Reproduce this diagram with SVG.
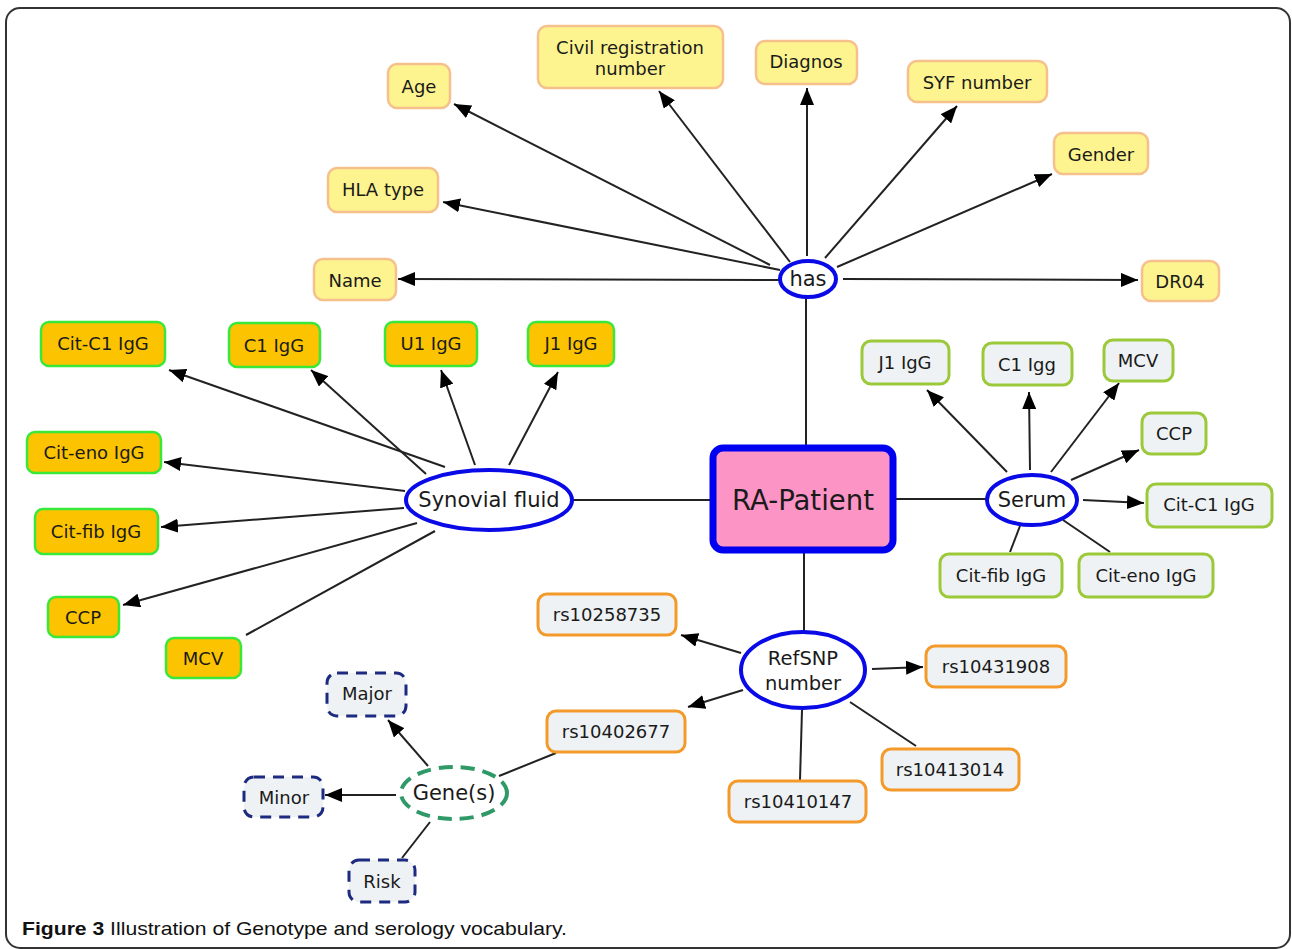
<svg xmlns="http://www.w3.org/2000/svg" width="1292" height="949" viewBox="0 0 1292 949">
  <style>
    .t { font-family: "DejaVu Sans", Verdana, sans-serif; font-size: 18px; fill: #1a1a1a; text-anchor: middle; dominant-baseline: central; }
    .big { font-size: 21px; }
    .yel { fill: #fdf48f; stroke: #f6c08c; stroke-width: 2.5; }
    .org { fill: #fcc300; stroke: #3ae83a; stroke-width: 2.5; }
    .ser { fill: #eef2f4; stroke: #9bc93a; stroke-width: 3; }
    .rs  { fill: #eef2f4; stroke: #f39a2a; stroke-width: 3; }
    .gen { fill: #eef2f4; stroke: #1c2a80; stroke-width: 3; stroke-dasharray: 11 8; }
    .ell { fill: #ffffff; stroke: #0a0ae6; stroke-width: 4; }
    .gell { fill: #ffffff; stroke: #2f9a68; stroke-width: 4; stroke-dasharray: 14 8; }
    .ln { stroke: #222; stroke-width: 2; fill: none; }
    .ar { stroke: #222; stroke-width: 2; fill: none; marker-end: url(#ah); }
    .cap { font-family: "Liberation Sans", Arial, sans-serif; font-size: 19px; fill: #111; }
  </style>
  <defs>
    <marker id="ah" markerUnits="userSpaceOnUse" markerWidth="18" markerHeight="14" refX="17" refY="7" orient="auto">
      <path d="M0,0 L17,7 L0,14 z" fill="#000"/>
    </marker>
  </defs>

  <rect width="1292" height="949" fill="#ffffff"/>
  <!-- figure frame -->
  <rect x="6" y="8" width="1284" height="940" rx="14" fill="none" stroke="#333" stroke-width="2"/>

  <!-- connectors -->
  <g id="connectors">
    <line class="ln" x1="806" y1="298" x2="806" y2="447"/>
    <line class="ln" x1="572" y1="500" x2="713" y2="500"/>
    <line class="ln" x1="896" y1="499" x2="987" y2="499"/>
    <line class="ln" x1="804" y1="552" x2="804" y2="632"/>
    <line class="ln" x1="435" y1="531" x2="246" y2="635"/>
    <line class="ln" x1="1020" y1="526" x2="1010" y2="552"/>
    <line class="ln" x1="1063" y1="520" x2="1110" y2="552"/>
    <line class="ln" x1="850" y1="702" x2="916" y2="746"/>
    <line class="ln" x1="802" y1="710" x2="800" y2="780"/>
    <line class="ln" x1="556" y1="753" x2="499" y2="776"/>
    <line class="ln" x1="430" y1="822" x2="402" y2="858"/>

    <line class="ar" x1="770" y1="265" x2="454" y2="104"/>
    <line class="ar" x1="790" y1="262" x2="659" y2="91"/>
    <line class="ar" x1="807" y1="256" x2="807" y2="88"/>
    <line class="ar" x1="825" y1="258" x2="957" y2="106"/>
    <line class="ar" x1="837" y1="267" x2="1052" y2="174"/>
    <line class="ar" x1="780" y1="270" x2="443" y2="202"/>
    <line class="ar" x1="780" y1="280" x2="398" y2="279"/>
    <line class="ar" x1="843" y1="279" x2="1138" y2="280"/>

    <line class="ar" x1="445" y1="467" x2="169" y2="370"/>
    <line class="ar" x1="426" y1="474" x2="311" y2="370"/>
    <line class="ar" x1="475" y1="465" x2="441" y2="370"/>
    <line class="ar" x1="509" y1="465" x2="558" y2="372"/>
    <line class="ar" x1="405" y1="491" x2="164" y2="462"/>
    <line class="ar" x1="404" y1="508" x2="161" y2="527"/>
    <line class="ar" x1="417" y1="523" x2="123" y2="605"/>

    <line class="ar" x1="1007" y1="472" x2="927" y2="390"/>
    <line class="ar" x1="1030" y1="470" x2="1029" y2="392"/>
    <line class="ar" x1="1051" y1="472" x2="1119" y2="383"/>
    <line class="ar" x1="1071" y1="480" x2="1139" y2="450"/>
    <line class="ar" x1="1083" y1="500" x2="1144" y2="503"/>

    <line class="ar" x1="741" y1="653" x2="681" y2="635"/>
    <line class="ar" x1="743" y1="690" x2="688" y2="707"/>
    <line class="ar" x1="872" y1="669" x2="923" y2="667"/>

    <line class="ar" x1="428" y1="766" x2="388" y2="720"/>
    <line class="ar" x1="396" y1="795" x2="325" y2="795"/>
  </g>

  <!-- central concept -->
  <g id="ra-patient">
    <rect x="716" y="451" width="180" height="102" rx="10" fill="#fdfbc0"/>
    <rect x="713" y="448" width="180" height="102" rx="10" fill="#fc94c6" stroke="#0000f0" stroke-width="7"/>
    <text class="t" x="803" y="500" style="font-size:27.5px">RA-Patient</text>
  </g>

  <!-- relation hubs -->
  <g id="has"><ellipse class="ell" cx="808" cy="279" rx="28" ry="18"/><text class="t big" x="808" y="279">has</text></g>
  <g id="synovial-fluid"><ellipse class="ell" cx="489" cy="500" rx="83" ry="30"/><text class="t big" x="489" y="500">Synovial fluid</text></g>
  <g id="serum"><ellipse class="ell" cx="1032" cy="500" rx="45" ry="25"/><text class="t big" x="1032" y="500">Serum</text></g>
  <g id="refsnp"><ellipse class="ell" cx="803" cy="670" rx="62" ry="38"/><text class="t" x="803" y="658" style="font-size:19.5px">RefSNP</text><text class="t" x="803" y="683" style="font-size:19.5px">number</text></g>
  <g id="genes"><ellipse class="gell" cx="454" cy="793" rx="53" ry="26"/><text class="t big" x="454" y="793">Gene(s)</text></g>

  <!-- patient attributes -->
  <g id="age"><rect class="yel" x="388" y="64" width="62" height="44" rx="9"/><text class="t" x="419" y="86">Age</text></g>
  <g id="civil-registration-number"><rect class="yel" x="538" y="26" width="185" height="62" rx="9"/><text class="t" x="630" y="47">Civil registration</text><text class="t" x="630" y="68">number</text></g>
  <g id="diagnos"><rect class="yel" x="756" y="41" width="101" height="43" rx="9"/><text class="t" x="806" y="61">Diagnos</text></g>
  <g id="syf-number"><rect class="yel" x="908" y="61" width="139" height="41" rx="9"/><text class="t" x="977" y="82">SYF number</text></g>
  <g id="gender"><rect class="yel" x="1054" y="133" width="94" height="41" rx="9"/><text class="t" x="1101" y="154">Gender</text></g>
  <g id="hla-type"><rect class="yel" x="328" y="168" width="110" height="44" rx="9"/><text class="t" x="383" y="189">HLA type</text></g>
  <g id="name"><rect class="yel" x="314" y="259" width="82" height="41" rx="9"/><text class="t" x="355" y="280">Name</text></g>
  <g id="dr04"><rect class="yel" x="1142" y="261" width="77" height="40" rx="9"/><text class="t" x="1180" y="281">DR04</text></g>

  <!-- synovial fluid markers -->
  <g id="sf-cit-c1"><rect class="org" x="41" y="322" width="124" height="44" rx="8"/><text class="t" x="103" y="343">Cit-C1 IgG</text></g>
  <g id="sf-c1"><rect class="org" x="229" y="323" width="91" height="44" rx="8"/><text class="t" x="274" y="345">C1 IgG</text></g>
  <g id="sf-u1"><rect class="org" x="385" y="322" width="92" height="44" rx="8"/><text class="t" x="431" y="343">U1 IgG</text></g>
  <g id="sf-j1"><rect class="org" x="528" y="322" width="86" height="44" rx="8"/><text class="t" x="571" y="343">J1 IgG</text></g>
  <g id="sf-cit-eno"><rect class="org" x="27" y="432" width="134" height="41" rx="8"/><text class="t" x="94" y="452">Cit-eno IgG</text></g>
  <g id="sf-cit-fib"><rect class="org" x="35" y="509" width="123" height="45" rx="8"/><text class="t" x="96" y="531">Cit-fib IgG</text></g>
  <g id="sf-ccp"><rect class="org" x="48" y="597" width="71" height="40" rx="8"/><text class="t" x="83" y="617">CCP</text></g>
  <g id="sf-mcv"><rect class="org" x="166" y="638" width="75" height="40" rx="8"/><text class="t" x="203" y="658">MCV</text></g>

  <!-- serum markers -->
  <g id="se-j1"><rect class="ser" x="862" y="341" width="87" height="43" rx="9"/><text class="t" x="905" y="362">J1 IgG</text></g>
  <g id="se-c1"><rect class="ser" x="983" y="343" width="89" height="42" rx="9"/><text class="t" x="1027" y="364">C1 Igg</text></g>
  <g id="se-mcv"><rect class="ser" x="1104" y="340" width="69" height="41" rx="9"/><text class="t" x="1138" y="360">MCV</text></g>
  <g id="se-ccp"><rect class="ser" x="1142" y="413" width="64" height="41" rx="9"/><text class="t" x="1174" y="433">CCP</text></g>
  <g id="se-cit-c1"><rect class="ser" x="1147" y="484" width="125" height="43" rx="9"/><text class="t" x="1209" y="504">Cit-C1 IgG</text></g>
  <g id="se-cit-fib"><rect class="ser" x="940" y="554" width="122" height="43" rx="9"/><text class="t" x="1001" y="575">Cit-fib IgG</text></g>
  <g id="se-cit-eno"><rect class="ser" x="1079" y="554" width="134" height="43" rx="9"/><text class="t" x="1146" y="575">Cit-eno IgG</text></g>

  <!-- SNP identifiers -->
  <g id="rs10258735"><rect class="rs" x="538" y="594" width="138" height="41" rx="9"/><text class="t" x="607" y="614">rs10258735</text></g>
  <g id="rs10431908"><rect class="rs" x="926" y="646" width="140" height="41" rx="9"/><text class="t" x="996" y="666">rs10431908</text></g>
  <g id="rs10402677"><rect class="rs" x="547" y="711" width="138" height="41" rx="9"/><text class="t" x="616" y="731">rs10402677</text></g>
  <g id="rs10413014"><rect class="rs" x="882" y="749" width="137" height="41" rx="9"/><text class="t" x="950" y="769">rs10413014</text></g>
  <g id="rs10410147"><rect class="rs" x="729" y="781" width="137" height="41" rx="9"/><text class="t" x="798" y="801">rs10410147</text></g>

  <!-- gene categories -->
  <g id="major"><rect class="gen" x="327" y="673" width="79" height="43" rx="10"/><text class="t" x="367" y="693">Major</text></g>
  <g id="minor"><rect class="gen" x="244" y="777" width="79" height="40" rx="10"/><text class="t" x="284" y="797">Minor</text></g>
  <g id="risk"><rect class="gen" x="349" y="860" width="66" height="42" rx="10"/><text class="t" x="382" y="881">Risk</text></g>

  <!-- caption -->
  <text class="cap" x="22" y="935" textLength="545" lengthAdjust="spacingAndGlyphs"><tspan font-weight="bold">Figure 3</tspan> Illustration of Genotype and serology vocabulary.</text>
</svg>
